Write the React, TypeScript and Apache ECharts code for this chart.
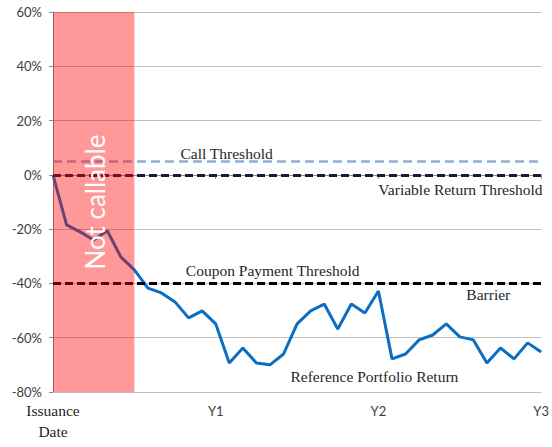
import React, { useEffect, useRef } from "react";
import * as echarts from "echarts";

// Monthly reference portfolio return (%), month 0 = issuance, 36 = Y3
const portfolioReturn = [
  0, -18.4, -21, -24, -20.6, -30.2, -35, -41.7, -43.5, -46.8, -52.7, -50.1,
  -54.9, -69.3, -63.8, -69.3, -70, -66, -54.9, -50.1, -47.6, -56.8, -47.6,
  -50.9, -42.8, -67.8, -66, -60.8, -59, -54.9, -59.7, -60.8, -69.3, -63.8,
  -67.8, -61.9, -65.3,
];
const xTickLabels = ["Issuance\nDate", "Y1", "Y2", "Y3"];
const yTicks = [-80, -60, -40, -20, 0, 20, 40, 60];
const callThreshold = 5;
const variableReturnThreshold = 0;
const barrier = -40;
const notCallableEnd = 6; // months

const SERIF = "'Liberation Serif', 'Times New Roman', serif";
const SANS = "Lato, 'Liberation Sans', sans-serif";
const SERIF_SIZE = 15.5;

// Annotation anchors in data units
const annotations = [
  { text: "Call Threshold", x: 12.8, y: 8.0, align: "center" },
  { text: "Variable Return Threshold", x: 36.1, y: -5.5, align: "right" },
  { text: "Coupon Payment Threshold", x: 16.2, y: -35.4, align: "center" },
  { text: "Barrier", x: 32.1, y: -44.2, align: "center" },
  { text: "Reference Portfolio Return", x: 23.7, y: -74.2, align: "center" },
];

export default function App() {
  const ref = useRef<HTMLDivElement>(null);
  useEffect(() => {
    document.body.style.margin = "0";
    if (!ref.current) return;
    const chart = echarts.init(ref.current, null, { renderer: "svg" });
    const option: any = {
      animation: false,
      grid: { left: 53, right: 9, top: 12, bottom: 55, containLabel: false },
      xAxis: {
        type: "value",
        min: 0,
        max: 36,
        interval: 12,
        splitLine: { show: false },
        axisLine: { lineStyle: { color: "#8c8c8c", width: 1 } },
        axisTick: { show: true, length: 4, lineStyle: { color: "#8c8c8c" } },
        axisLabel: {
          margin: 8,
          formatter: (v: number) => {
            const l = xTickLabels[Math.round(v / 12)];
            if (v === 0) return l.split("\n").map((s) => `{s|${s}}`).join("\n");
            return `{n|${l}}`;
          },
          rich: {
            s: { fontFamily: SERIF, fontSize: SERIF_SIZE, color: "#262626", lineHeight: 21 },
            n: { fontFamily: SANS, fontSize: 13, color: "#404040", lineHeight: 21 },
          },
        },
      },
      yAxis: {
        type: "value",
        min: yTicks[0],
        max: yTicks[yTicks.length - 1],
        interval: 20,
        axisLine: { show: true, lineStyle: { color: "#8c8c8c", width: 1 } },
        axisTick: { show: true, length: 4, lineStyle: { color: "#8c8c8c" } },
        splitLine: { lineStyle: { color: "#bfbfbf", width: 1 } },
        axisLabel: {
          formatter: (v: number) => `${v}%`,
          fontFamily: SANS,
          fontSize: 13,
          color: "#404040",
          margin: 11,
        },
      },
      series: [
        {
          type: "line",
          z: 2,
          data: portfolioReturn.map((v, i) => [i, v]),
          symbol: "none",
          lineStyle: { color: "#0a6fc2", width: 3 },
          markLine: {
            silent: true,
            symbol: "none",
            z: 3,
            label: { show: false },
            data: [
              {
                yAxis: callThreshold,
                lineStyle: { color: "#92acd8", width: 2.5, type: [9, 5] },
              },
              {
                yAxis: variableReturnThreshold,
                lineStyle: { color: "#1e1a3c", width: 3, type: [8, 4] },
              },
              {
                yAxis: barrier,
                lineStyle: { color: "#000000", width: 3, type: [8, 4] },
              },
            ],
          },
        },
        {
          type: "line",
          z: 10,
          data: [],
          markArea: {
            silent: true,
            z: 10,
            itemStyle: { color: "rgba(255,0,0,0.4)" },
            label: { show: false },
            data: [
              [
                { xAxis: 0, yAxis: yTicks[yTicks.length - 1] },
                { xAxis: notCallableEnd, yAxis: yTicks[0] },
              ],
            ],
          },
        },
      ],
    };
    chart.setOption(option);

    const graphics: any[] = annotations.map((a) => {
      const [px, py] = chart.convertToPixel({ gridIndex: 0 }, [a.x, a.y]);
      return {
        type: "text",
        x: px,
        y: py,
        z: 20,
        style: {
          text: a.text,
          fontFamily: SERIF,
          fontSize: SERIF_SIZE,
          fill: "#262626",
          align: a.align,
          verticalAlign: "middle",
        },
      };
    });
    const [nx, ny] = chart.convertToPixel({ gridIndex: 0 }, [
      notCallableEnd / 2 + 0.1,
      (yTicks[0] + yTicks[yTicks.length - 1]) / 2,
    ]);
    graphics.push({
      type: "text",
      x: nx,
      y: ny,
      rotation: Math.PI / 2,
      z: 30,
      style: {
        text: "Not callable",
        fontFamily: SANS,
        fontSize: 26,
        fill: "#ffffff",
        align: "center",
        verticalAlign: "middle",
      },
    });
    chart.setOption({ graphic: graphics });

    return () => chart.dispose();
  }, []);
  return <div ref={ref} style={{ width: 552, height: 447 }} />;
}
